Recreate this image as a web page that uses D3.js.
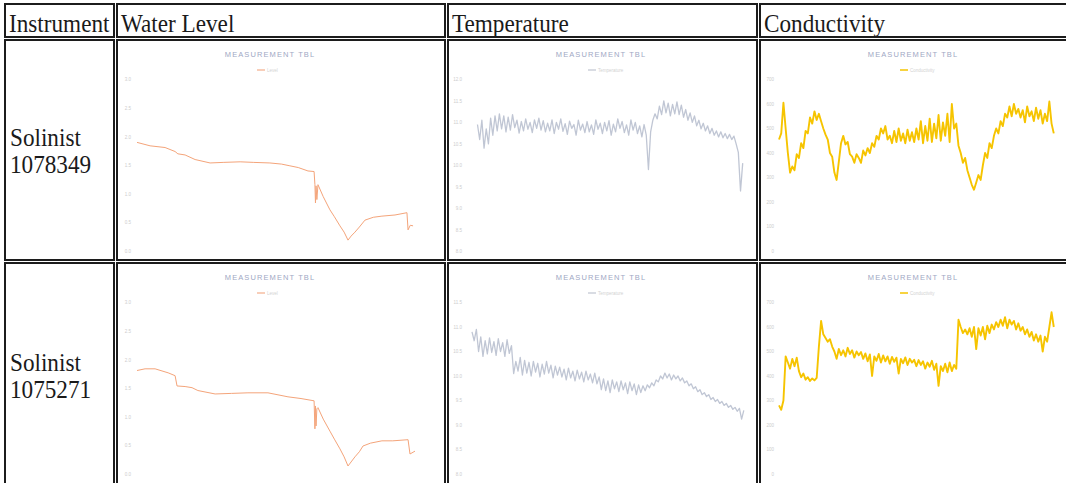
<!DOCTYPE html>
<html>
<head>
<meta charset="utf-8">
<script src="https://cdn.jsdelivr.net/npm/d3@7"></script>
<style>
  html, body { margin: 0; padding: 0; background: #fff; }
  svg { display: block; }
</style>
</head>
<body>
<svg id="sheet" width="1066" height="483"></svg>
<script>
// ---- table content ----
const columns = ["Instrument", "Water Level", "Temperature", "Conductivity"];
const instruments = [["Solinist", "1078349"], ["Solinist", "1075271"]];
const chartTitle = "MEASUREMENT TBL";
const legendLabels = ["Level", "Temperature", "Conductivity"];

// ---- axis ticks ----
const levelTicks = [3.0, 2.5, 2.0, 1.5, 1.0, 0.5, 0.0];
const tempTicks1 = [12.0, 11.5, 11.0, 10.5, 10.0, 9.5, 9.0, 8.5, 8.0];
const tempTicks2 = [11.5, 11.0, 10.5, 10.0, 9.5, 9.0, 8.5, 8.0];
const condTicks = [700, 600, 500, 400, 300, 200, 100, 0];

// ---- water level (m), day of record ----
const level1Days = [0, 4.7, 10.1, 13.7, 14.7, 17.3, 20.9, 26.3, 31, 37.1,
  42, 47.8, 52, 55.0, 58, 61.5, 63.7, 64.0, 64.2, 64.4,
  64.7, 65.1, 67, 69.4, 71, 73.0, 74.5, 75.9, 77, 78.4,
  80, 82.0, 85, 88.1, 92.8, 97.1, 97.5, 98.3, 99.3];
const level1Values = [1.90, 1.84, 1.81, 1.74, 1.70, 1.68, 1.60, 1.54, 1.55, 1.56,
  1.55, 1.54, 1.52, 1.49, 1.46, 1.40, 1.39, 1.16, 0.84, 1.14,
  0.90, 1.16, 0.95, 0.72, 0.60, 0.44, 0.33, 0.19, 0.26, 0.33,
  0.42, 0.54, 0.59, 0.61, 0.63, 0.67, 0.37, 0.45, 0.44];

const level2Days = [0, 2.9, 6.5, 11.2, 13.7, 14.4, 17.3, 19.8, 21.9, 28.1,
  34, 39.9, 47.1, 54.3, 59, 63.7, 64.0, 64.2, 64.4, 64.7,
  65.1, 67, 69.4, 71, 73.0, 74.5, 75.9, 77, 78.4, 80,
  81.3, 84, 88.1, 92, 97.5, 98.2, 100];
const level2Values = [1.81, 1.84, 1.84, 1.77, 1.72, 1.54, 1.53, 1.51, 1.46, 1.40,
  1.41, 1.42, 1.42, 1.35, 1.32, 1.28, 0.79, 1.19, 0.84, 1.14,
  1.16, 0.96, 0.75, 0.61, 0.44, 0.30, 0.14, 0.21, 0.30, 0.39,
  0.49, 0.54, 0.58, 0.58, 0.60, 0.35, 0.40];

// ---- logged series, one reading per sampling interval (days) ----
const sampleInterval = 0.8;
const temp1Start = 2;
const temp1Values = [10.95, 10.60, 11.05, 10.40, 10.85, 10.50, 11.10, 10.70, 11.15, 10.80,
  11.20, 10.85, 11.15, 10.78, 11.12, 10.82, 11.18, 10.88, 11.05, 10.75,
  11.02, 10.80, 11.08, 10.84, 11.00, 10.76, 11.06, 10.86, 11.10, 10.82,
  11.04, 10.78, 10.98, 10.80, 11.06, 10.74, 11.00, 10.84, 11.08, 10.79,
  10.97, 10.72, 11.03, 10.86, 10.95, 10.70, 11.05, 10.82, 10.96, 10.76,
  11.02, 10.78, 10.94, 10.72, 11.06, 10.84, 10.98, 10.74, 11.00, 10.80,
  11.04, 10.70, 10.96, 10.78, 11.08, 10.86, 11.02, 10.76, 10.94, 10.70,
  11.06, 10.82, 11.00, 10.74, 10.92, 10.66, 10.95, 10.70, 9.90, 10.78,
  11.05, 11.20, 11.08, 11.38, 11.18, 11.50, 11.22, 11.45, 11.15, 11.42,
  11.20, 11.48, 11.18, 11.40, 11.12, 11.30, 11.05, 11.22, 11.00, 11.15,
  10.92, 11.05, 10.85, 10.98, 10.80, 10.92, 10.74, 10.86, 10.70, 10.80,
  10.66, 10.78, 10.64, 10.74, 10.62, 10.72, 10.60, 10.68, 10.50, 10.30,
  9.40, 10.05];

const temp2Start = 0;
const temp2Values = [10.90, 10.72, 10.95, 10.50, 10.80, 10.40, 10.72, 10.45, 10.78, 10.48,
  10.70, 10.42, 10.76, 10.50, 10.68, 10.40, 10.74, 10.46, 10.62, 10.05,
  10.30, 10.10, 10.38, 10.02, 10.32, 10.06, 10.28, 10.00, 10.30, 10.08,
  10.26, 9.98, 10.24, 10.04, 10.30, 10.06, 10.22, 9.96, 10.20, 10.02,
  10.18, 9.98, 10.14, 9.92, 10.16, 9.96, 10.10, 9.90, 10.12, 9.94,
  10.08, 9.88, 10.10, 9.92, 10.04, 9.86, 10.06, 9.84, 9.98, 9.72,
  9.94, 9.70, 9.90, 9.66, 9.92, 9.74, 9.88, 9.68, 9.90, 9.72,
  9.86, 9.64, 9.88, 9.70, 9.84, 9.62, 9.82, 9.66, 9.80, 9.70,
  9.82, 9.76, 9.86, 9.80, 9.92, 9.88, 10.00, 9.94, 10.06, 9.96,
  10.04, 9.92, 10.02, 9.94, 10.00, 9.90, 9.96, 9.86, 9.90, 9.80,
  9.84, 9.74, 9.78, 9.68, 9.72, 9.62, 9.66, 9.58, 9.62, 9.52,
  9.56, 9.48, 9.52, 9.44, 9.48, 9.40, 9.44, 9.36, 9.40, 9.32,
  9.36, 9.28, 9.34, 9.12, 9.30];

const cond1Start = 0;
const cond1Values = [455, 480, 605, 500, 400, 320, 345, 330, 395, 380,
  440, 420, 490, 480, 545, 520, 570, 535, 560, 530,
  500, 475, 455, 400, 385, 320, 290, 365, 440, 470,
  435, 445, 395, 385, 360, 395, 380, 360, 410, 390,
  420, 400, 440, 425, 470, 455, 500, 480, 510, 455,
  470, 440, 490, 445, 500, 450, 480, 440, 495, 450,
  485, 445, 500, 455, 530, 440, 510, 450, 540, 445,
  520, 460, 555, 450, 525, 470, 560, 445, 600, 500,
  520, 430, 400, 360, 380, 330, 300, 270, 250, 280,
  310, 290, 350, 400, 380, 440, 420, 470, 500, 480,
  530, 510, 560, 545, 590, 550, 600, 560, 580, 545,
  575, 525, 590, 550, 570, 530, 585, 540, 575, 520,
  560, 530, 610, 520, 480];

const cond2Start = 0;
const cond2Values = [280, 262, 300, 480, 455, 430, 470, 440, 475, 420,
  395, 410, 385, 395, 380, 390, 382, 392, 520, 625,
  570, 555, 540, 550, 520, 500, 470, 510, 485, 505,
  480, 515, 490, 505, 475, 500, 485, 498, 470, 492,
  460, 488, 400, 480, 462, 490, 455, 484, 460, 480,
  450, 478, 458, 475, 410, 470, 452, 476, 445, 470,
  455, 466, 440, 465, 445, 460, 430, 455, 438, 462,
  425, 450, 360, 440, 420, 450, 415, 455, 420, 445,
  430, 630, 600, 575, 590, 570, 595, 560, 600, 510,
  595, 565, 600, 550, 605, 575, 610, 590, 620, 600,
  630, 605, 640, 595, 630, 610, 625, 590, 615, 585,
  600, 570, 590, 560, 580, 545, 570, 540, 565, 500,
  560, 540, 600, 660, 600];

// ---- sheet geometry ----
const colBounds = [[5, 114], [117, 445], [448, 757], [760, 1070]];
const rowBounds = [[4, 37], [40, 260], [263, 486]];

const svg = d3.select("#sheet");
const serif = "'Liberation Serif', 'Times New Roman', serif";
const sans = "'Liberation Sans', Arial, sans-serif";

// cell frames
rowBounds.forEach(([y0, y1]) => {
  colBounds.forEach(([x0, x1]) => {
    svg.append("rect")
      .attr("x", x0).attr("y", y0)
      .attr("width", x1 - x0).attr("height", y1 - y0)
      .attr("fill", "#fff")
      .attr("stroke", "#1c1c1c")
      .attr("stroke-width", 2);
  });
});

// serif text, slightly condensed
function sheetText(x, y, str) {
  svg.append("text")
    .attr("transform", `translate(${x},${y}) scale(0.91,1)`)
    .attr("font-family", serif)
    .attr("font-size", 25.5)
    .attr("fill", "#1a1a1a")
    .text(str);
}

columns.forEach((c, i) => sheetText(colBounds[i][0] + 4, rowBounds[0][0] + 28, c));
instruments.forEach((lines, r) => {
  const [y0, y1] = rowBounds[r + 1];
  const mid = (y0 + y1) / 2;
  sheetText(colBounds[0][0] + 5, mid - 4, lines[0]);
  sheetText(colBounds[0][0] + 5, mid + 23, lines[1]);
});

// ---- small charts ----
const chartKinds = {
  level: { left: 20, right: 30, color: "#f4a47a", width: 1.0, opacity: 1, fmt: d3.format(".1f"), legendColor: "#f6bea2" },
  temp:  { left: 24, right: 11, color: "#b9c0cf", width: 1.3, opacity: 0.9, fmt: d3.format(".1f"), legendColor: "#cdd1da" },
  cond:  { left: 19, right: 14, color: "#f6c400", width: 1.9, opacity: 1, fmt: d3.format("d"), legendColor: "#f5c400" }
};

function drawChart(col, row, kind, days, values, ticks, legend) {
  const cfg = chartKinds[kind];
  const [x0, x1] = colBounds[col];
  const [y0] = rowBounds[row];
  const g = svg.append("g");

  const x = d3.scaleLinear().domain([0, 100]).range([x0 + cfg.left, x1 - cfg.right]);
  const y = d3.scaleLinear()
    .domain([d3.min(ticks), d3.max(ticks)])
    .range([y0 + 211, y0 + 39.5]);

  // title
  g.append("text")
    .attr("x", x0 + 153).attr("y", y0 + 17)
    .attr("text-anchor", "middle")
    .attr("font-family", sans).attr("font-size", 7.5)
    .attr("letter-spacing", 1.1)
    .attr("fill", "#a0a8c4")
    .text(chartTitle);

  // legend
  const lx = x0 + 154;
  const ly = y0 + 30;
  g.append("line")
    .attr("x1", lx - 14).attr("x2", lx - 6)
    .attr("y1", ly).attr("y2", ly)
    .attr("stroke", cfg.legendColor).attr("stroke-width", 1.5);
  g.append("text")
    .attr("x", lx - 4).attr("y", ly + 1.6)
    .attr("font-family", sans).attr("font-size", 4.5)
    .attr("fill", "#d2d2d2")
    .text(legend);

  // y axis labels
  const axis = d3.axisLeft(y).tickValues(ticks).tickFormat(cfg.fmt).tickSize(0).tickPadding(0);
  const ag = g.append("g").attr("transform", `translate(${x0 + 14},0)`).call(axis);
  ag.select(".domain").remove();
  ag.selectAll("text")
    .attr("font-family", sans).attr("font-size", 4.5)
    .attr("fill", "#cdcdcd");

  // series
  const pts = days.map((d, i) => [d, values[i]]);
  g.append("path")
    .datum(pts)
    .attr("fill", "none")
    .attr("stroke", cfg.color)
    .attr("stroke-width", cfg.width)
    .attr("stroke-opacity", cfg.opacity)
    .attr("stroke-linejoin", "round")
    .attr("d", d3.line().x(d => x(d[0])).y(d => y(d[1])));
}

const daysFor = (start, vals) => vals.map((_, i) => start + i * sampleInterval);

drawChart(1, 1, "level", level1Days, level1Values, levelTicks, legendLabels[0]);
drawChart(2, 1, "temp", daysFor(temp1Start, temp1Values), temp1Values, tempTicks1, legendLabels[1]);
drawChart(3, 1, "cond", daysFor(cond1Start, cond1Values), cond1Values, condTicks, legendLabels[2]);
drawChart(1, 2, "level", level2Days, level2Values, levelTicks, legendLabels[0]);
drawChart(2, 2, "temp", daysFor(temp2Start, temp2Values), temp2Values, tempTicks2, legendLabels[1]);
drawChart(3, 2, "cond", daysFor(cond2Start, cond2Values), cond2Values, condTicks, legendLabels[2]);
</script>
</body>
</html>
